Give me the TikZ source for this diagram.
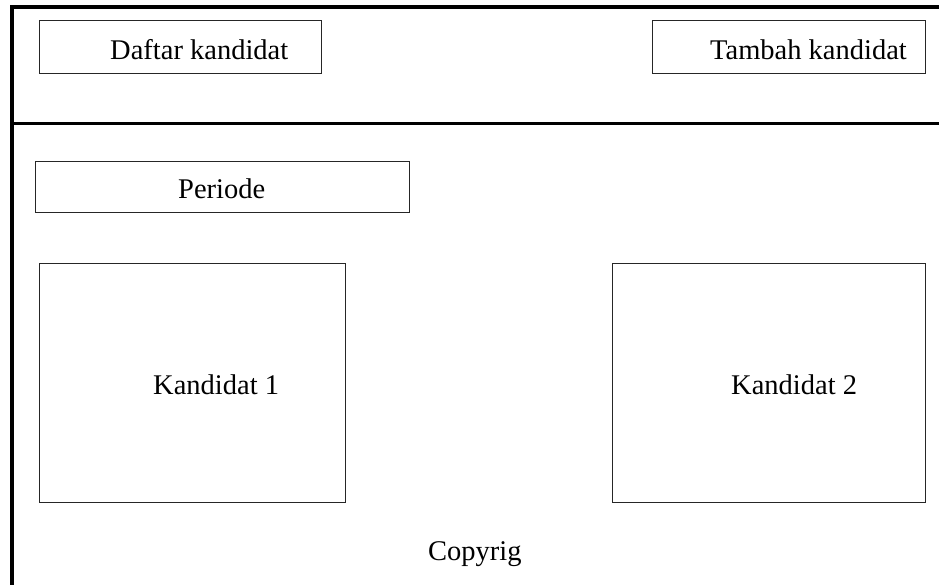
\documentclass[tikz,border=0pt]{standalone}
\usepackage{fontspec}
\setmainfont{Liberation Serif}
\begin{document}
\begin{tikzpicture}[x=1pt,y=-1pt,
  frame/.style={line width=4pt,line cap=butt},
  divider/.style={line width=3pt},
  panel/.style={draw=black!85,line width=1pt},
  caption/.style={anchor=base west,inner sep=0pt,font=\fontsize{28.5}{34}\selectfont}]
\useasboundingbox (0,0) rectangle (939,585);
% page frame: thick left and top edges, header divider
\coordinate (tl) at (12,5.5);
\coordinate (tr) at (939,7.5);
\coordinate (bl) at (12,585);
\coordinate (dl) at (12,123.5);
\coordinate (dr) at (939,123.5);
\draw[frame] (12,7.5) -- (tr);
\draw[frame] (tl) -- (bl);
\draw[divider] (dl) -- (dr);
% header buttons
\draw[panel] (39,21) rectangle (321,74);
\node[caption] (daftar) at (110,60) {Daftar kandidat};
\draw[panel] (652,21) rectangle (925,74);
\node[caption] (tambah) at (710,60) {Tambah kandidat};
% period selector
\draw[panel] (35,162) rectangle (409,213);
\node[caption] (periode) at (178,199) {Periode};
% candidate cards
\draw[panel] (39,264) rectangle (345,502);
\node[caption] (k1) at (153,394) {Kandidat 1};
\draw[panel] (612,264) rectangle (925,502);
\node[caption] (k2) at (731,394) {Kandidat 2};
% footer
\node[caption] (copy) at (428,560) {Copyrig};
\end{tikzpicture}
\end{document}
